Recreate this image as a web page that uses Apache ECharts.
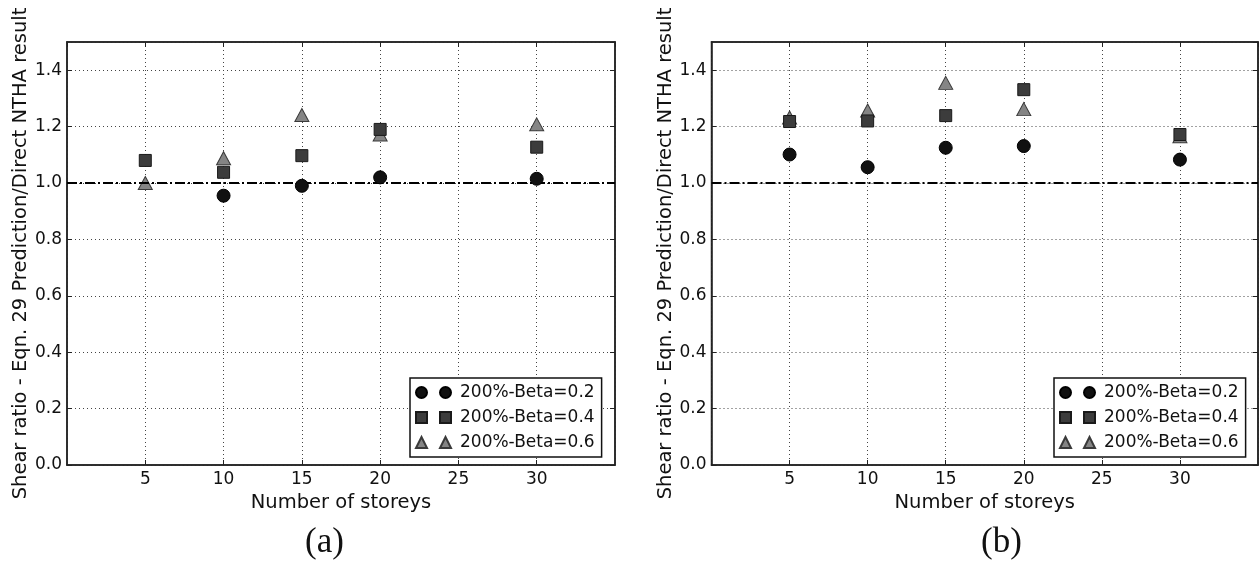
<!DOCTYPE html>
<html>
<head>
<meta charset="utf-8">
<script src="https://cdn.jsdelivr.net/npm/echarts@6/dist/echarts.min.js"></script>
<style>
  html, body { margin: 0; padding: 0; background: #fff; }
  #chart { width: 1259px; height: 572px; }
</style>
</head>
<body>
<div id="chart"></div>
<script>
// storeys on the x axis
const storeys = [5, 10, 15, 20, 30];
const seriesNames = ['200%-Beta=0.2', '200%-Beta=0.4', '200%-Beta=0.6'];

// panel (a)
const aBeta02 = [null, 0.955, 0.99, 1.02, 1.015];
const aBeta04 = [1.08, 1.038, 1.097, 1.19, 1.127];
const aBeta06 = [1.0, 1.088, 1.241, 1.172, 1.208];

// panel (b)
const bBeta02 = [1.101, 1.056, 1.125, 1.131, 1.083];
const bBeta04 = [1.218, 1.22, 1.239, 1.331, 1.172];
const bBeta06 = [1.232, 1.257, 1.355, 1.262, 1.166];

const captions = ['(a)', '(b)'];

const FONT = 'DejaVu Sans';
const chart = echarts.init(document.getElementById('chart'), null, { renderer: 'canvas' });

const styles = [
    { symbol: 'circle', size: 13, color: '#111', border: '#000' },
    { symbol: 'rect', size: 12, color: '#3c3c3c', border: '#1a1a1a' },
    { symbol: 'triangle', size: 14, color: '#858585', border: '#3a3a3a' }
];
const legendIcons = [
    'path://M0,5.5a5.5,5.5 0 1,0 11,0a5.5,5.5 0 1,0 -11,0M24,5.5a5.5,5.5 0 1,0 11,0a5.5,5.5 0 1,0 -11,0Z',
    'path://M0,0h11v11h-11zM24,0h11v11h-11z',
    'path://M5.5,0L11,11H0zM29.5,0L35,11H24z'
];

function pairs(values) {
    const out = [];
    values.forEach((v, i) => {
        if (v !== null) out.push([storeys[i], v]);
    });
    return out;
}

const grids = [
    { left: 67, top: 42, width: 548, height: 423 },
    { left: 711.5, top: 42, width: 546.5, height: 423 }
];

const xAxes = [];
const yAxes = [];
grids.forEach((g, gi) => {
    xAxes.push({
        gridIndex: gi, type: 'value', min: 0, max: 35, interval: 5, position: 'bottom',
        name: 'Number of storeys', nameLocation: 'middle', nameGap: 22,
        nameTextStyle: { fontFamily: FONT, fontSize: 19.5, color: '#111' },
        axisLine: { show: true, onZero: false, lineStyle: { color: '#222', width: 1.5 } },
        axisTick: { show: true, inside: true, length: 5, lineStyle: { color: '#222' } },
        axisLabel: { fontFamily: FONT, fontSize: 17, color: '#111', margin: 6, showMinLabel: false, showMaxLabel: false },
        splitLine: { show: true, lineStyle: { color: '#444', type: [1, 3], width: 1 } }
    });
    xAxes.push({
        gridIndex: gi, type: 'value', min: 0, max: 35, interval: 5, position: 'top',
        axisLine: { show: true, onZero: false, lineStyle: { color: '#222', width: 1.5 } },
        axisTick: { show: true, inside: true, length: 5, lineStyle: { color: '#222' } },
        axisLabel: { show: false }, splitLine: { show: false }
    });
    yAxes.push({
        gridIndex: gi, type: 'value', min: 0, max: 1.5, interval: 0.2, position: 'left',
        name: 'Shear ratio - Eqn. 29 Prediction/Direct NTHA result', nameLocation: 'middle', nameGap: 34,
        nameTextStyle: { fontFamily: FONT, fontSize: 19.5, color: '#111' },
        axisLine: { show: true, onZero: false, lineStyle: { color: '#222', width: 1.5 } },
        axisTick: { show: true, inside: true, length: 5, lineStyle: { color: '#222' } },
        axisLabel: { fontFamily: FONT, fontSize: 17, color: '#111', margin: 5, showMaxLabel: false,
            formatter: v => v.toFixed(1) },
        splitLine: { show: true, lineStyle: { color: '#444', type: [1, 3], width: 1 } }
    });
    yAxes.push({
        gridIndex: gi, type: 'value', min: 0, max: 1.5, interval: 0.2, position: 'right',
        axisLine: { show: true, onZero: false, lineStyle: { color: '#222', width: 1.5 } },
        axisTick: { show: true, inside: true, length: 5, lineStyle: { color: '#222' } },
        axisLabel: { show: false }, splitLine: { show: false }
    });
});

const panelData = [[aBeta02, aBeta04, aBeta06], [bBeta02, bBeta04, bBeta06]];
const series = [];
panelData.forEach((sets, gi) => {
    sets.forEach((vals, si) => {
        const st = styles[si];
        const s = {
            name: seriesNames[si], type: 'scatter',
            xAxisIndex: gi * 2, yAxisIndex: gi * 2,
            symbol: st.symbol, symbolSize: st.symbol === 'triangle' ? [14, 13] : st.size,
            itemStyle: { color: st.color, borderColor: st.border, borderWidth: 1, opacity: 1 },
            z: 5 - si,
            data: pairs(vals)
        };
        if (si === 0) {
            s.markLine = {
                silent: true, symbol: 'none', animation: false,
                label: { show: false },
                lineStyle: { color: '#000', type: [10, 3, 2, 3], width: 2 },
                data: [{ yAxis: 1 }]
            };
        }
        series.push(s);
    });
});

function legendFor(left) {
    return {
        orient: 'vertical', left: left, top: 378,
        padding: [6, 7, 6, 5], itemGap: 8, itemWidth: 35, itemHeight: 11,
        backgroundColor: '#fff', borderColor: '#111', borderWidth: 1.5, borderRadius: 0,
        selectedMode: false,
        textStyle: { fontFamily: FONT, fontSize: 17, color: '#111', padding: [0, 0, 0, 4] },
        data: seriesNames.map((n, i) => ({ name: n, icon: legendIcons[i] }))
    };
}

chart.setOption({
    backgroundColor: '#fff',
    animation: false,
    grid: grids.map(g => Object.assign({ show: true, borderColor: '#222', borderWidth: 1.5, backgroundColor: 'transparent' }, g)),
    xAxis: xAxes,
    yAxis: yAxes,
    legend: [legendFor(410), legendFor(1054)],
    graphic: [
        { type: 'text', left: 326 - 21, top: 525, style: { text: captions[0], font: '35px "Liberation Serif"', fill: '#111' } },
        { type: 'text', left: 1004 - 23, top: 525, style: { text: captions[1], font: '35px "Liberation Serif"', fill: '#111' } }
    ],
    series: series
});
</script>
</body>
</html>
